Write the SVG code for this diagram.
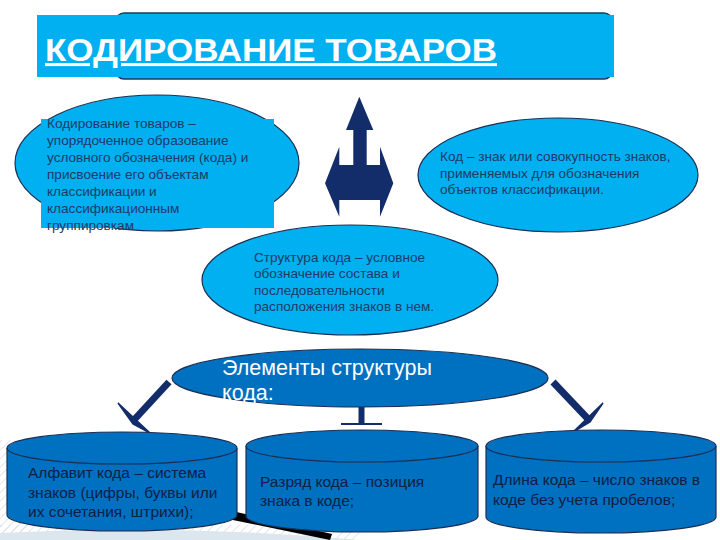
<svg xmlns="http://www.w3.org/2000/svg" width="720" height="540" viewBox="0 0 720 540">
<defs>
<style>
.lb{fill:#00b0f0;stroke:#1c2f52;stroke-width:1.2}
.mb{fill:#0070c0;stroke:#1c2f52;stroke-width:1.2}
.t{font-family:"Liberation Sans",Arial,sans-serif;fill:#1f3a68;font-size:13.6px}
.ct{font-family:"Liberation Sans",Arial,sans-serif;fill:#0f2145;font-size:15.5px}
.con{stroke:#132d6b;fill:none}
</style>
<pattern id="hatch" width="6" height="6" patternUnits="userSpaceOnUse" patternTransform="rotate(45)">
<line x1="0" y1="0" x2="0" y2="6" stroke="#d8dde3" stroke-width="1.5"/>
</pattern>
</defs>
<rect width="720" height="540" fill="#ffffff"/>
<g id="background">
<rect x="0" y="440" width="30" height="100" fill="url(#hatch)"/>
<rect x="0" y="525" width="360" height="15" fill="url(#hatch)"/>
<path d="M0,533 Q180,524 360,540 L0,540 Z" fill="#dbe6ee"/>
<path d="M232,511 L332,534 L330,540 L228,519 Z" fill="#000000"/>
</g>
<g id="title">
<rect x="116" y="13" width="496" height="66" rx="8" fill="#00b0f0" stroke="#1f3a5a" stroke-width="1.5"/>
<rect x="37" y="15" width="577" height="62" fill="#00b0f0"/>
<text x="45" y="61" font-family="'Liberation Sans',Arial,sans-serif" font-weight="bold" font-size="31" fill="#ffffff" text-decoration="underline" textLength="452" lengthAdjust="spacingAndGlyphs">КОДИРОВАНИЕ ТОВАРОВ</text>
</g>
<g id="updown-arrow">
<path d="M359.3,96.7 L373.3,130 L366.7,130 L366.7,165 L380,165 L380,146.7 L393.3,183.3 L380,216.7 L380,200 L339.3,200 L339.3,216.7 L325,183.3 L339.3,146.7 L339.3,165 L353.3,165 L353.3,130 L346,130 Z" fill="#132d6b"/>
</g>
<g id="node-definition">
<ellipse class="lb" cx="157" cy="163" rx="142" ry="68"/>
<rect x="41" y="119" width="233" height="109" fill="#00b0f0"/>
<text class="t"><tspan x="47" y="128">Кодирование товаров –</tspan><tspan x="47" y="145">упорядоченное образование</tspan><tspan x="47" y="162">условного обозначения (кода) и</tspan><tspan x="47" y="179">присвоение его объектам</tspan><tspan x="47" y="196">классификации и</tspan><tspan x="47" y="213">классификационным</tspan><tspan x="47" y="230">группировкам</tspan></text>
</g>
<g id="node-code">
<ellipse class="lb" cx="558" cy="175" rx="140" ry="57"/>
<text class="t"><tspan x="440" y="161">Код – знак или совокупность знаков,</tspan><tspan x="440" y="178">применяемых для обозначения</tspan><tspan x="440" y="194">объектов классификации.</tspan></text>
</g>
<g id="node-structure">
<ellipse class="lb" cx="350" cy="280" rx="148" ry="55"/>
<text class="t"><tspan x="254" y="262">Структура кода – условное</tspan><tspan x="254" y="278">обозначение состава и</tspan><tspan x="254" y="295">последовательности</tspan><tspan x="254" y="311">расположения знаков в нем.</tspan></text>
</g>
<g id="node-elements">
<ellipse class="mb" cx="360" cy="378" rx="188" ry="29"/>
<text font-family="'Liberation Sans',Arial,sans-serif" font-size="21.5" fill="#ffffff"><tspan x="222" y="375">Элементы структуры</tspan><tspan x="222" y="400">кода:</tspan></text>
</g>
<g id="connectors">
<line class="con" x1="169" y1="382" x2="133" y2="421" stroke-width="7"/>
<path d="M118,403 L150,433 L133,424 Z" fill="#132d6b" stroke="#132d6b" stroke-width="1.5"/>
<line class="con" x1="361.5" y1="407" x2="361.5" y2="424" stroke-width="6"/>
<line class="con" x1="341" y1="424" x2="382" y2="424" stroke-width="2"/>
<line class="con" x1="553" y1="382" x2="590" y2="421" stroke-width="7"/>
<path d="M603,403 L573,432 L590,422 Z" fill="#132d6b" stroke="#132d6b" stroke-width="1.5"/>
</g>
<g id="node-alphabet">
<path class="mb" d="M7,448 L7,515 A115,16 0 0 0 237,515 L237,448"/>
<ellipse class="mb" cx="122" cy="448" rx="115" ry="16"/>
<text class="ct"><tspan x="28" y="478">Алфавит кода – система</tspan><tspan x="28" y="498">знаков (цифры, буквы или</tspan><tspan x="28" y="517">их сочетания, штрихи);</tspan></text>
</g>
<g id="node-digit">
<path class="mb" d="M246,446 L246,516 A116,16 0 0 0 478,516 L478,446"/>
<ellipse class="mb" cx="362" cy="446" rx="116" ry="16"/>
<text class="ct"><tspan x="260" y="487">Разряд кода – позиция</tspan><tspan x="260" y="506">знака в коде;</tspan></text>
</g>
<g id="node-length">
<path class="mb" d="M486,446 L486,517 A115,16 0 0 0 716,517 L716,446"/>
<ellipse class="mb" cx="601" cy="446" rx="115" ry="16"/>
<text class="ct"><tspan x="493" y="485">Длина кода – число знаков в</tspan><tspan x="493" y="505">коде без учета пробелов;</tspan></text>
</g>
</svg>
